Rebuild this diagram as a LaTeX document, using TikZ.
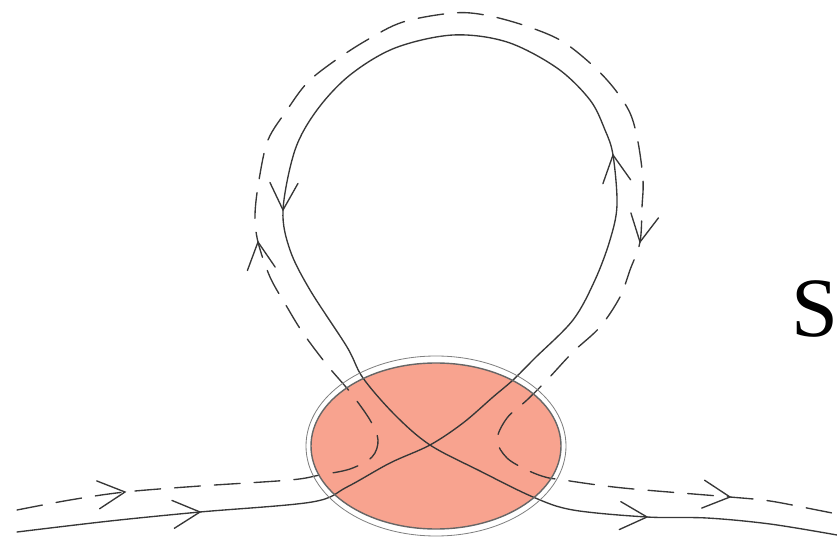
\documentclass[tikz,border=0pt]{standalone}
\usepackage{fontspec}
\setmainfont{Liberation Serif}
\definecolor{salmonfill}{RGB}{248,163,143}
\definecolor{linegray}{RGB}{55,55,55}
\begin{document}
\begin{tikzpicture}[x=0.03cm,y=-0.03cm,
  curve/.style={draw=linegray, line width=1.15pt, line cap=round, line join=round},
  dashcurve/.style={curve, dash pattern=on 22pt off 12pt},
  vtip/.pic={\draw[draw=linegray, line width=1.15pt, solid, line cap=round, line join=miter] (-27,14) -- (0,0) -- (-27,-14);},
  rim/.style={draw=black!60, line width=1.2pt},
  outerrim/.style={draw=black!50, line width=0.7pt}
]
\useasboundingbox (0,0) rectangle (837,542);
% blob
\fill[salmonfill] (436,446) ellipse [x radius=125, y radius=83];
% solid loop
\draw[curve] plot[smooth, tension=0.55] coordinates {
 (17,532) (110,521) (200,512) (312,502) (347,487) (390,463) (430,445)
 (463,423) (493,397) (513,380) (535,358) (573,320) (595,280) (610,240)
 (617,205) (613,155) (605,130) (590,100) (557,68) (507,42) (453,35)
 (395,48) (350,75) (317,110) (295,150) (283,210) (290,250) (310,290)
 (347,347) (363,378) (395,415) (430,445) (480,471) (533,497) (573,510)
 (647,517) (707,518) (770,524) (837,535)};
% dashed loop
\draw[dashcurve] plot[smooth, tension=0.55] coordinates {
 (17,510) (70,500) (125,492) (200,486) (290,480) (320,475) (350,469)
 (372,457) (378,440) (370,420) (350,392) (327,365) (303,333) (287,307)
 (270,277) (258,242) (255,215) (259,180) (268,140) (287,110) (307,83)
 (333,62) (367,40) (403,22) (453,13) (485,15) (523,25) (560,40) (590,63)
 (613,87) (630,113) (638,142) (643,180) (642,207) (640,242) (630,270)
 (620,297) (600,327) (573,352) (547,380) (527,400) (507,418) (497,440)
 (507,458) (527,470) (545,477) (563,480) (623,488) (730,497) (770,501)
 (817,510) (837,514)};
% arrow heads on solid curve
\pic[rotate=5] at (200,512) {vtip};
\pic[rotate=98] at (613,155) {vtip};
\pic[rotate=-92] at (283,210) {vtip};
\pic[rotate=-3] at (647,517) {vtip};
% arrow heads on dashed curve
\pic[rotate=6] at (125,492) {vtip};
\pic[rotate=97] at (258,242) {vtip};
\pic[rotate=-100] at (640,242) {vtip};
\pic[rotate=-6] at (730,497) {vtip};
% blob rims
\draw[rim] (436,446) ellipse [x radius=125, y radius=83];
\draw[outerrim] (436,446) ellipse [x radius=130, y radius=90];
% label
\node[inner sep=0pt, font=\fontsize{72}{78}\selectfont] (S) at (815,309) {S};
\end{tikzpicture}
\end{document}
